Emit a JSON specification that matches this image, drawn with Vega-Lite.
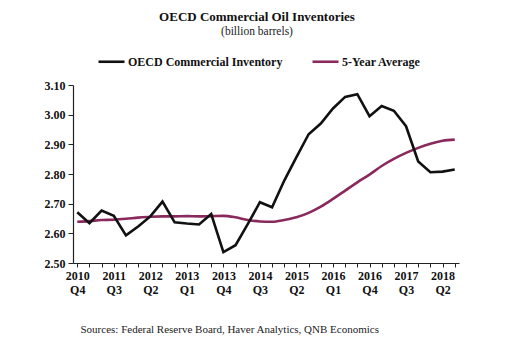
{
  "$schema": "https://vega.github.io/schema/vega-lite/v6.json",
  "autosize": {"type": "none"},
  "width": 386,
  "height": 178,
  "padding": {"left": 73, "top": 85, "right": 57, "bottom": 92},
  "background": "white",
  "title": {
    "text": "OECD  Commercial  Oil Inventories",
    "subtitle": "(billion barrels)",
    "font": "Liberation Serif",
    "fontSize": 13,
    "fontWeight": "bold",
    "color": "#111",
    "subtitleFont": "Liberation Serif",
    "subtitleFontSize": 11.5,
    "subtitleColor": "#222",
    "subtitlePadding": 2,
    "anchor": "middle",
    "frame": "group",
    "dx": -9,
    "offset": 10
  },
  "data": {
    "values": [
      {"q": "2010 Q4", "inv": 2.671, "avg": 2.639},
      {"q": "2011 Q1", "inv": 2.634, "avg": 2.641},
      {"q": "2011 Q2", "inv": 2.677, "avg": 2.645},
      {"q": "2011 Q3", "inv": 2.659, "avg": 2.646},
      {"q": "2011 Q4", "inv": 2.593, "avg": 2.649},
      {"q": "2012 Q1", "inv": 2.623, "avg": 2.653},
      {"q": "2012 Q2", "inv": 2.657, "avg": 2.656},
      {"q": "2012 Q3", "inv": 2.707, "avg": 2.657},
      {"q": "2012 Q4", "inv": 2.637, "avg": 2.657},
      {"q": "2013 Q1", "inv": 2.633, "avg": 2.658},
      {"q": "2013 Q2", "inv": 2.630, "avg": 2.657},
      {"q": "2013 Q3", "inv": 2.665, "avg": 2.658},
      {"q": "2013 Q4", "inv": 2.537, "avg": 2.659},
      {"q": "2014 Q1", "inv": 2.560, "avg": 2.654},
      {"q": "2014 Q2", "inv": 2.631, "avg": 2.645},
      {"q": "2014 Q3", "inv": 2.705, "avg": 2.640},
      {"q": "2014 Q4", "inv": 2.688, "avg": 2.639},
      {"q": "2015 Q1", "inv": 2.778, "avg": 2.645},
      {"q": "2015 Q2", "inv": 2.857, "avg": 2.654},
      {"q": "2015 Q3", "inv": 2.934, "avg": 2.669},
      {"q": "2015 Q4", "inv": 2.970, "avg": 2.690},
      {"q": "2016 Q1", "inv": 3.021, "avg": 2.716},
      {"q": "2016 Q2", "inv": 3.060, "avg": 2.744},
      {"q": "2016 Q3", "inv": 3.069, "avg": 2.772},
      {"q": "2016 Q4", "inv": 2.995, "avg": 2.798},
      {"q": "2017 Q1", "inv": 3.029, "avg": 2.827},
      {"q": "2017 Q2", "inv": 3.013, "avg": 2.851},
      {"q": "2017 Q3", "inv": 2.961, "avg": 2.871},
      {"q": "2017 Q4", "inv": 2.842, "avg": 2.888},
      {"q": "2018 Q1", "inv": 2.806, "avg": 2.902},
      {"q": "2018 Q2", "inv": 2.808, "avg": 2.912},
      {"q": "2018 Q3", "inv": 2.815, "avg": 2.916}
    ]
  },
  "transform": [
    {"fold": ["inv", "avg"], "as": ["key", "value"]},
    {"lookup": "key", "from": {"data": {"values": [{"key": "inv", "series": "OECD Commercial Inventory"}, {"key": "avg", "series": "5-Year Average"}]}, "key": "key", "fields": ["series"]}}
  ],
  "encoding": {
    "x": {
      "field": "q",
      "type": "ordinal",
      "sort": null,
      "scale": {"type": "point", "padding": 0.35},
      "axis": {
        "title": "Sources: Federal Reserve Board, Haver Analytics, QNB Economics",
        "titleFont": "Liberation Serif",
        "titleFontSize": 11,
        "titleFontWeight": "normal",
        "titleColor": "#222",
        "titleAlign": "left",
        "titleAnchor": "start",
        "titleBaseline": "alphabetic",
        "titleX": 7,
        "titleY": 69,
        "labelExpr": "indexof(['2010 Q4','2011 Q3','2012 Q2','2013 Q1','2013 Q4','2014 Q3','2015 Q2','2016 Q1','2016 Q4','2017 Q3','2018 Q2'], datum.value) >= 0 ? split(datum.value, ' ') : ''",
        "labelAngle": 0,
        "labelFont": "Liberation Serif",
        "labelFontSize": 12,
        "labelFontWeight": "bold",
        "labelColor": "#111",
        "labelLineHeight": 14,
        "labelPadding": 3,
        "tickSize": 4,
        "tickColor": "#222",
        "domainColor": "#222",
        "domainWidth": 1.2,
        "grid": false
      }
    },
    "y": {
      "field": "value",
      "type": "quantitative",
      "scale": {"domain": [2.5, 3.1], "nice": false, "zero": false},
      "axis": {
        "title": null,
        "values": [2.5, 2.6, 2.7, 2.8, 2.9, 3.0, 3.1],
        "format": ".2f",
        "labelFont": "Liberation Serif",
        "labelFontSize": 12,
        "labelFontWeight": "bold",
        "labelColor": "#111",
        "labelPadding": 3,
        "tickSize": 5,
        "tickColor": "#222",
        "domainColor": "#222",
        "domainWidth": 1.2,
        "grid": false
      }
    },
    "color": {
      "field": "series",
      "type": "nominal",
      "scale": {"domain": ["OECD Commercial Inventory", "5-Year Average"], "range": ["#111111", "#8a2a5c"]},
      "legend": {
        "title": null,
        "orient": "none",
        "direction": "horizontal",
        "legendX": 24,
        "legendY": -38,
        "symbolType": "stroke",
        "symbolSize": 676,
        "symbolStrokeWidth": 2.6,
        "labelFont": "Liberation Serif",
        "labelFontSize": 12,
        "labelFontWeight": "bold",
        "labelColor": "#111",
        "labelLimit": 400,
        "labelOffset": 2,
        "columnPadding": 24
      }
    }
  },
  "layer": [
    {
      "transform": [{"filter": "datum.key === 'avg'"}],
      "mark": {"type": "line", "strokeWidth": 2.6, "interpolate": "monotone"}
    },
    {
      "transform": [{"filter": "datum.key === 'inv'"}],
      "mark": {"type": "line", "strokeWidth": 2.6, "interpolate": "linear"}
    }
  ],
  "config": {"view": {"stroke": null}}
}
